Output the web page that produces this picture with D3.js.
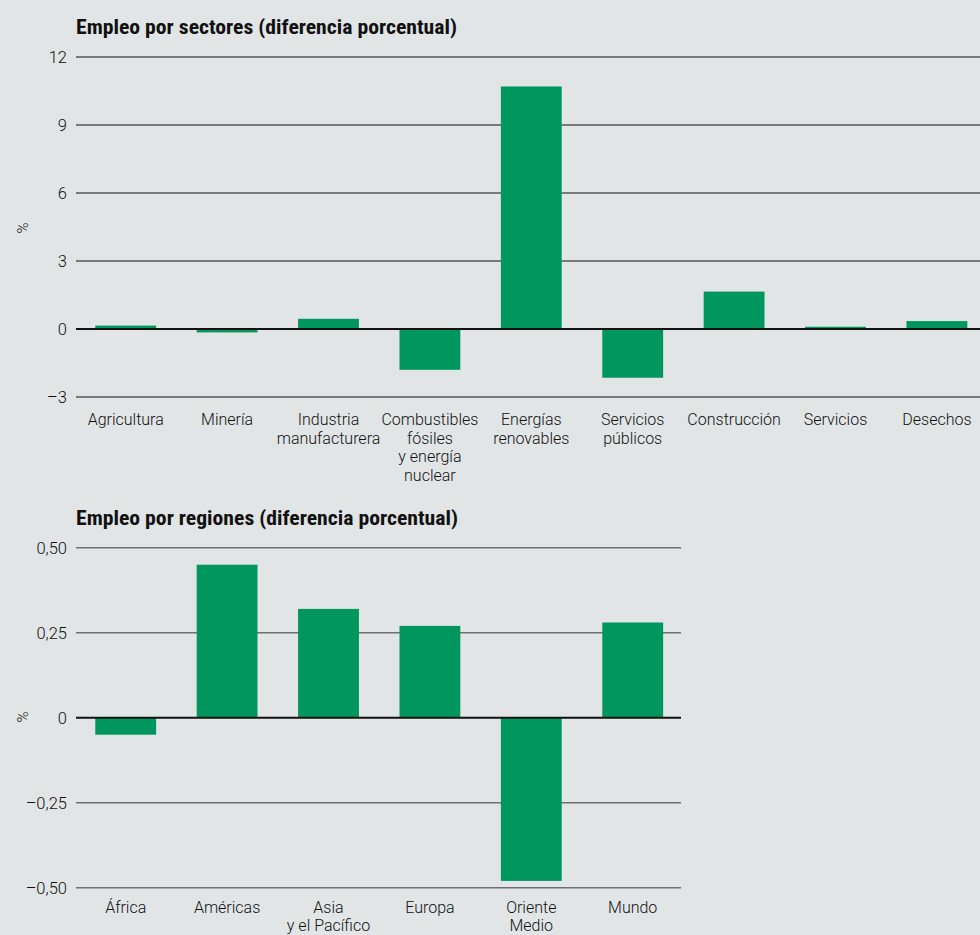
<!DOCTYPE html>
<html>
<head>
<meta charset="utf-8">
<script src="https://cdn.jsdelivr.net/npm/d3@7"></script>
<style>
  html, body { margin: 0; padding: 0; background: #e1e5e6; }
  svg { display: block; }
  .tick-label { font-family: Roboto, "Liberation Sans", sans-serif; font-weight: 300; font-size: 16px; fill: #111; }
  .title { font-family: "Liberation Sans Narrow", "Roboto Condensed", sans-serif; font-weight: bold; font-size: 19.5px; fill: #111; }
</style>
</head>
<body>
<svg id="chart" width="980" height="935"></svg>
<script>
// Employment by sector (percentage difference)
const sectorCategories = [
  ["Agricultura"],
  ["Minería"],
  ["Industria", "manufacturera"],
  ["Combustibles", "fósiles", "y energía", "nuclear"],
  ["Energías", "renovables"],
  ["Servicios", "públicos"],
  ["Construcción"],
  ["Servicios"],
  ["Desechos"]
];
const sectorValues = [0.15, -0.15, 0.45, -1.8, 10.7, -2.15, 1.65, 0.1, 0.35];
const sectorTicks = [12, 9, 6, 3, 0, -3];
const sectorTickLabels = ["12", "9", "6", "3", "0", "–3"];

// Employment by region (percentage difference)
const regionCategories = [
  ["África"],
  ["Américas"],
  ["Asia", "y el Pacífico"],
  ["Europa"],
  ["Oriente", "Medio"],
  ["Mundo"]
];
const regionValues = [-0.05, 0.45, 0.32, 0.27, -0.48, 0.28];
const regionTicks = [0.5, 0.25, 0, -0.25, -0.5];
const regionTickLabels = ["0,50", "0,25", "0", "–0,25", "–0,50"];

const titles = ["Empleo por sectores (diferencia porcentual)", "Empleo por regiones (diferencia porcentual)"];

const svg = d3.select("#chart");
const barColor = "#00965e";

function drawPanel(opts) {
  const { cats, values, ticks, tickLabels, title, titleY, titleWidth, yDomain, yRange,
          xStart, step, gridEnd, gridColor, gridWidth, labelY, lineGap } = opts;
  const g = svg.append("g");
  const n = cats.length;
  const x = d3.scaleBand()
    .domain(d3.range(n))
    .range([xStart, xStart + step * n])
    .paddingInner(0.4)
    .paddingOuter(0.2);
  const y = d3.scaleLinear().domain(yDomain).range(yRange);

  g.append("text").attr("class", "title")
    .attr("x", 76).attr("y", titleY)
    .attr("textLength", titleWidth).attr("lengthAdjust", "spacingAndGlyphs")
    .text(title);

  // grid lines and tick labels
  ticks.forEach((t, i) => {
    if (t !== 0) {
      g.append("line")
        .attr("x1", 76).attr("x2", gridEnd)
        .attr("y1", y(t)).attr("y2", y(t))
        .attr("stroke", gridColor).attr("stroke-width", gridWidth);
    }
    g.append("text").attr("class", "tick-label")
      .attr("x", 67).attr("y", y(t)).attr("dy", "0.36em")
      .attr("text-anchor", "end").style("font-size", "16.5px").text(tickLabels[i]);
  });

  // bars
  g.selectAll("rect.bar").data(values).join("rect")
    .attr("class", "bar")
    .attr("x", (d, i) => x(i))
    .attr("width", x.bandwidth())
    .attr("y", d => y(Math.max(0, d)))
    .attr("height", d => Math.abs(y(d) - y(0)))
    .attr("fill", barColor);

  // zero baseline
  g.append("line")
    .attr("x1", 76).attr("x2", gridEnd)
    .attr("y1", y(0)).attr("y2", y(0))
    .attr("stroke", "#111").attr("stroke-width", 2);

  // axis unit
  g.append("text").attr("class", "tick-label")
    .attr("transform", `translate(28,${opts.unitY}) rotate(-90)`)
    .attr("text-anchor", "middle").style("font-size", "15px").text("%");

  // category labels
  cats.forEach((lines, i) => {
    const t = g.append("text").attr("class", "tick-label")
      .attr("x", x(i) + x.bandwidth() / 2).attr("y", labelY)
      .attr("text-anchor", "middle");
    lines.forEach((ln, j) => {
      t.append("tspan").attr("x", x(i) + x.bandwidth() / 2)
        .attr("y", labelY + j * lineGap).text(ln);
    });
  });
}

drawPanel({
  cats: sectorCategories, values: sectorValues, ticks: sectorTicks, tickLabels: sectorTickLabels,
  title: titles[0], titleY: 34, titleWidth: 381, yDomain: [12, 0], yRange: [57, 329],
  xStart: 75, step: 101.4, gridEnd: 980, gridColor: "#111", gridWidth: 1,
  labelY: 425, lineGap: 18.5, unitY: 228
});

drawPanel({
  cats: regionCategories, values: regionValues, ticks: regionTicks, tickLabels: regionTickLabels,
  title: titles[1], titleY: 525, titleWidth: 382, yDomain: [0.5, 0], yRange: [547.7, 717.7],
  xStart: 75, step: 101.4, gridEnd: 681, gridColor: "#707070", gridWidth: 1.6,
  labelY: 913, lineGap: 18, unitY: 717
});
</script>
</body>
</html>
